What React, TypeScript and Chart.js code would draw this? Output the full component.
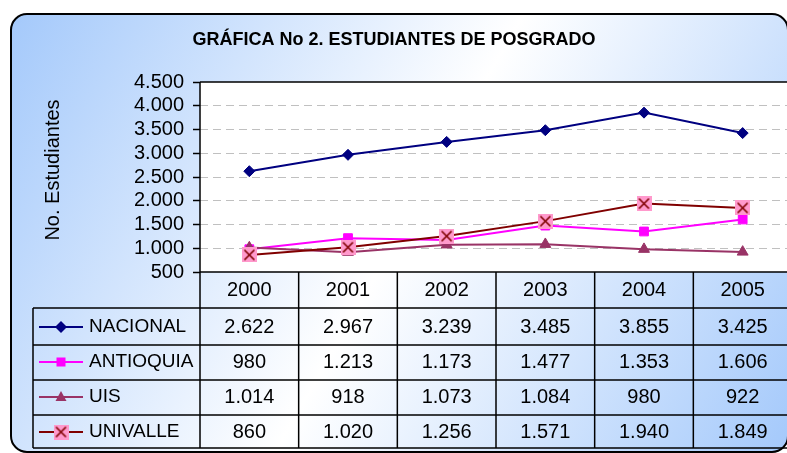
import React, { useEffect, useRef } from 'react';
import { Chart, registerables } from 'chart.js';
Chart.register(...registerables);

const years = ['2000', '2001', '2002', '2003', '2004', '2005'];
const seriesNames = ['NACIONAL', 'ANTIOQUIA', 'UIS', 'UNIVALLE'];
const nacional = [2622, 2967, 3239, 3485, 3855, 3425];
const antioquia = [980, 1213, 1173, 1477, 1353, 1606];
const uis = [1014, 918, 1073, 1084, 980, 922];
const univalle = [860, 1020, 1256, 1571, 1940, 1849];
const yMin = 500;
const yMax = 4500;
const yStep = 500;
const chartTitle = 'GRÁFICA No 2. ESTUDIANTES DE POSGRADO';
const yTitle = 'No. Estudiantes';

const FONT = '"Liberation Sans", Arial, sans-serif';
const fmt = (n: number) => String(Math.round(n)).replace(/\B(?=(\d{3})+(?!\d))/g, '.');

const colors = ['#000080', '#ff00ff', '#993366', '#800000'];

function makeXMarker(): HTMLCanvasElement {
  const c = document.createElement('canvas');
  c.width = 15;
  c.height = 15;
  const g = c.getContext('2d')!;
  g.fillStyle = '#ff99cc';
  g.fillRect(0, 0, 15, 15);
  g.strokeStyle = '#800000';
  g.lineWidth = 1.6;
  g.beginPath();
  g.moveTo(2.5, 2.5);
  g.lineTo(12.5, 12.5);
  g.moveTo(12.5, 2.5);
  g.lineTo(2.5, 12.5);
  g.stroke();
  return c;
}

function drawMarker(ctx: CanvasRenderingContext2D, idx: number, x: number, y: number, img: HTMLCanvasElement) {
  ctx.save();
  ctx.fillStyle = colors[idx];
  ctx.beginPath();
  if (idx === 0) {
    const r = 6;
    ctx.moveTo(x, y - r);
    ctx.lineTo(x + r, y);
    ctx.lineTo(x, y + r);
    ctx.lineTo(x - r, y);
    ctx.closePath();
    ctx.fill();
  } else if (idx === 1) {
    ctx.rect(x - 4.5, y - 4.5, 9, 9);
    ctx.fill();
  } else if (idx === 2) {
    ctx.moveTo(x, y - 6);
    ctx.lineTo(x + 5.5, y + 4);
    ctx.lineTo(x - 5.5, y + 4);
    ctx.closePath();
    ctx.fill();
  } else {
    ctx.drawImage(img, x - img.width / 2, y - img.height / 2);
  }
  ctx.restore();
}

export default function App() {
  const ref = useRef<HTMLCanvasElement | null>(null);
  useEffect(() => {
    if (!ref.current) return;
    const xImg = makeXMarker();
    const seriesData = [nacional, antioquia, uis, univalle];

    const rowLines = [308, 345, 380, 415, 448];
    const rowCenters = [327, 362, 397, 432];
    const headerCenter = 290;
    const tableLeft = 33;

    const framePlugin = {
      id: 'frame',
      beforeDraw(chart: any) {
        const { ctx, chartArea } = chart;
        ctx.save();
        ctx.fillStyle = '#fff';
        ctx.fillRect(0, 0, chart.width, chart.height);
        const bx = 11, by = 14, bw = 777, bh = 438, r = 16;
        ctx.beginPath();
        ctx.moveTo(bx + r, by);
        ctx.lineTo(bx + bw - r, by);
        ctx.arcTo(bx + bw, by, bx + bw, by + r, r);
        ctx.lineTo(bx + bw, by + bh - r);
        ctx.arcTo(bx + bw, by + bh, bx + bw - r, by + bh, r);
        ctx.lineTo(bx + r, by + bh);
        ctx.arcTo(bx, by + bh, bx, by + bh - r, r);
        ctx.lineTo(bx, by + r);
        ctx.arcTo(bx, by, bx + r, by, r);
        ctx.closePath();
        const grad = ctx.createLinearGradient(bx, by, 787, 453);
        grad.addColorStop(0, '#a4c9fb');
        grad.addColorStop(0.5, '#ffffff');
        grad.addColorStop(1, '#a4c9fb');
        ctx.fillStyle = grad;
        ctx.fill();
        ctx.lineWidth = 2;
        ctx.strokeStyle = '#000';
        ctx.stroke();

        // title
        ctx.fillStyle = '#000';
        ctx.font = `bold 18px ${FONT}`;
        ctx.textAlign = 'center';
        ctx.textBaseline = 'middle';
        ctx.fillText(chartTitle, 394, 40);

        // y axis title
        ctx.save();
        ctx.translate(53, 170);
        ctx.rotate(-Math.PI / 2);
        ctx.font = `20px ${FONT}`;
        ctx.fillText(yTitle, 0, 0);
        ctx.restore();

        // plot area
        ctx.fillStyle = '#fff';
        ctx.fillRect(chartArea.left, chartArea.top, chartArea.right - chartArea.left, chartArea.bottom - chartArea.top);
        ctx.restore();
      },
      afterDraw(chart: any) {
        const { ctx, chartArea, scales } = chart;
        const xs = scales.x;
        const colW = xs.getPixelForValue(1) - xs.getPixelForValue(0);
        const left = chartArea.left;
        const right = chartArea.right;
        const bottom = chartArea.bottom;
        const tableBottom = rowLines[rowLines.length - 1];
        ctx.save();
        ctx.strokeStyle = '#000';
        ctx.lineWidth = 1.5;
        ctx.beginPath();
        // plot border
        ctx.moveTo(left, chartArea.top);
        ctx.lineTo(right, chartArea.top);
        ctx.moveTo(left, chartArea.top);
        ctx.lineTo(left, tableBottom);
        ctx.moveTo(left, bottom);
        ctx.lineTo(right, bottom);
        // table vertical lines
        for (let k = 0; k <= years.length; k++) {
          const cx = xs.getPixelForValue(0) - colW / 2 + k * colW;
          ctx.moveTo(cx, bottom);
          ctx.lineTo(cx, tableBottom);
        }
        ctx.moveTo(tableLeft, rowLines[0]);
        ctx.lineTo(tableLeft, tableBottom);
        for (const ry of rowLines) {
          ctx.moveTo(tableLeft, ry);
          ctx.lineTo(right, ry);
        }
        ctx.stroke();

        ctx.fillStyle = '#000';
        ctx.font = `20px ${FONT}`;
        ctx.textAlign = 'center';
        ctx.textBaseline = 'middle';
        years.forEach((yr, i) => {
          ctx.fillText(yr, xs.getPixelForValue(i), headerCenter);
        });
        seriesData.forEach((arr, si) => {
          const cy = rowCenters[si];
          arr.forEach((v, i) => {
            ctx.fillText(fmt(v), xs.getPixelForValue(i), cy);
          });
        });
        // legend keys
        ctx.font = `19px ${FONT}`;
        seriesNames.forEach((name, si) => {
          const cy = rowCenters[si];
          ctx.strokeStyle = colors[si];
          ctx.lineWidth = 2;
          ctx.beginPath();
          ctx.moveTo(39, cy);
          ctx.lineTo(83, cy);
          ctx.stroke();
          drawMarker(ctx, si, 61, cy, xImg);
          ctx.fillStyle = '#000';
          ctx.textAlign = 'left';
          ctx.fillText(name, 89, cy);
        });
        ctx.restore();
      },
    };

    const pointStyles: any[] = ['rectRot', 'rect', 'triangle', xImg];
    const pointRadii = [5.5, 6.2, 6.3, 7];

    const chart = new Chart(ref.current, {
      type: 'line',
      data: {
        labels: years,
        datasets: seriesData.map((d, i) => ({
          label: seriesNames[i],
          data: d,
          borderColor: colors[i],
          backgroundColor: colors[i],
          borderWidth: 2,
          pointStyle: pointStyles[i],
          pointRadius: pointRadii[i],
          pointBorderWidth: 1,
          pointBorderColor: colors[i],
          pointBackgroundColor: colors[i],
          tension: 0,
          order: 4 - i,
        })),
      },
      options: {
        responsive: false,
        animation: false,
        devicePixelRatio: 1,
        events: [],
        layout: { padding: { top: 82, right: 6, bottom: 181, left: 0 } },
        plugins: {
          legend: { display: false },
          tooltip: { enabled: false },
          title: { display: false },
        },
        scales: {
          x: {
            type: 'category',
            display: false,
            offset: true,
          },
          y: {
            min: yMin,
            max: yMax,
            afterFit(scale: any) {
              scale.width = 200;
            },
            ticks: {
              stepSize: yStep,
              autoSkip: false,
              color: '#000',
              font: { family: FONT, size: 20 },
              padding: 9,
              callback: (v: any) => fmt(Number(v)),
            },
            grid: {
              color: (c: any) =>
                c.tick && (c.tick.value === yMin || c.tick.value === yMax) ? 'rgba(0,0,0,0)' : '#c0c0c0',
              lineWidth: 1,
              tickColor: '#000',
              tickLength: 7,
              tickWidth: 1.5,
              tickBorderDash: [],
            },
            border: { display: false, dash: [8, 5] },
            title: { display: false },
          },
        },
      },
      plugins: [framePlugin],
    } as any);
    return () => chart.destroy();
  }, []);

  return (
    <div style={{ position: 'fixed', left: 0, top: 0, width: 787, height: 453, overflow: 'hidden', background: '#fff' }}>
      <canvas ref={ref} width={800} height={453} style={{ width: 800, height: 453, display: 'block' }} />
    </div>
  );
}
